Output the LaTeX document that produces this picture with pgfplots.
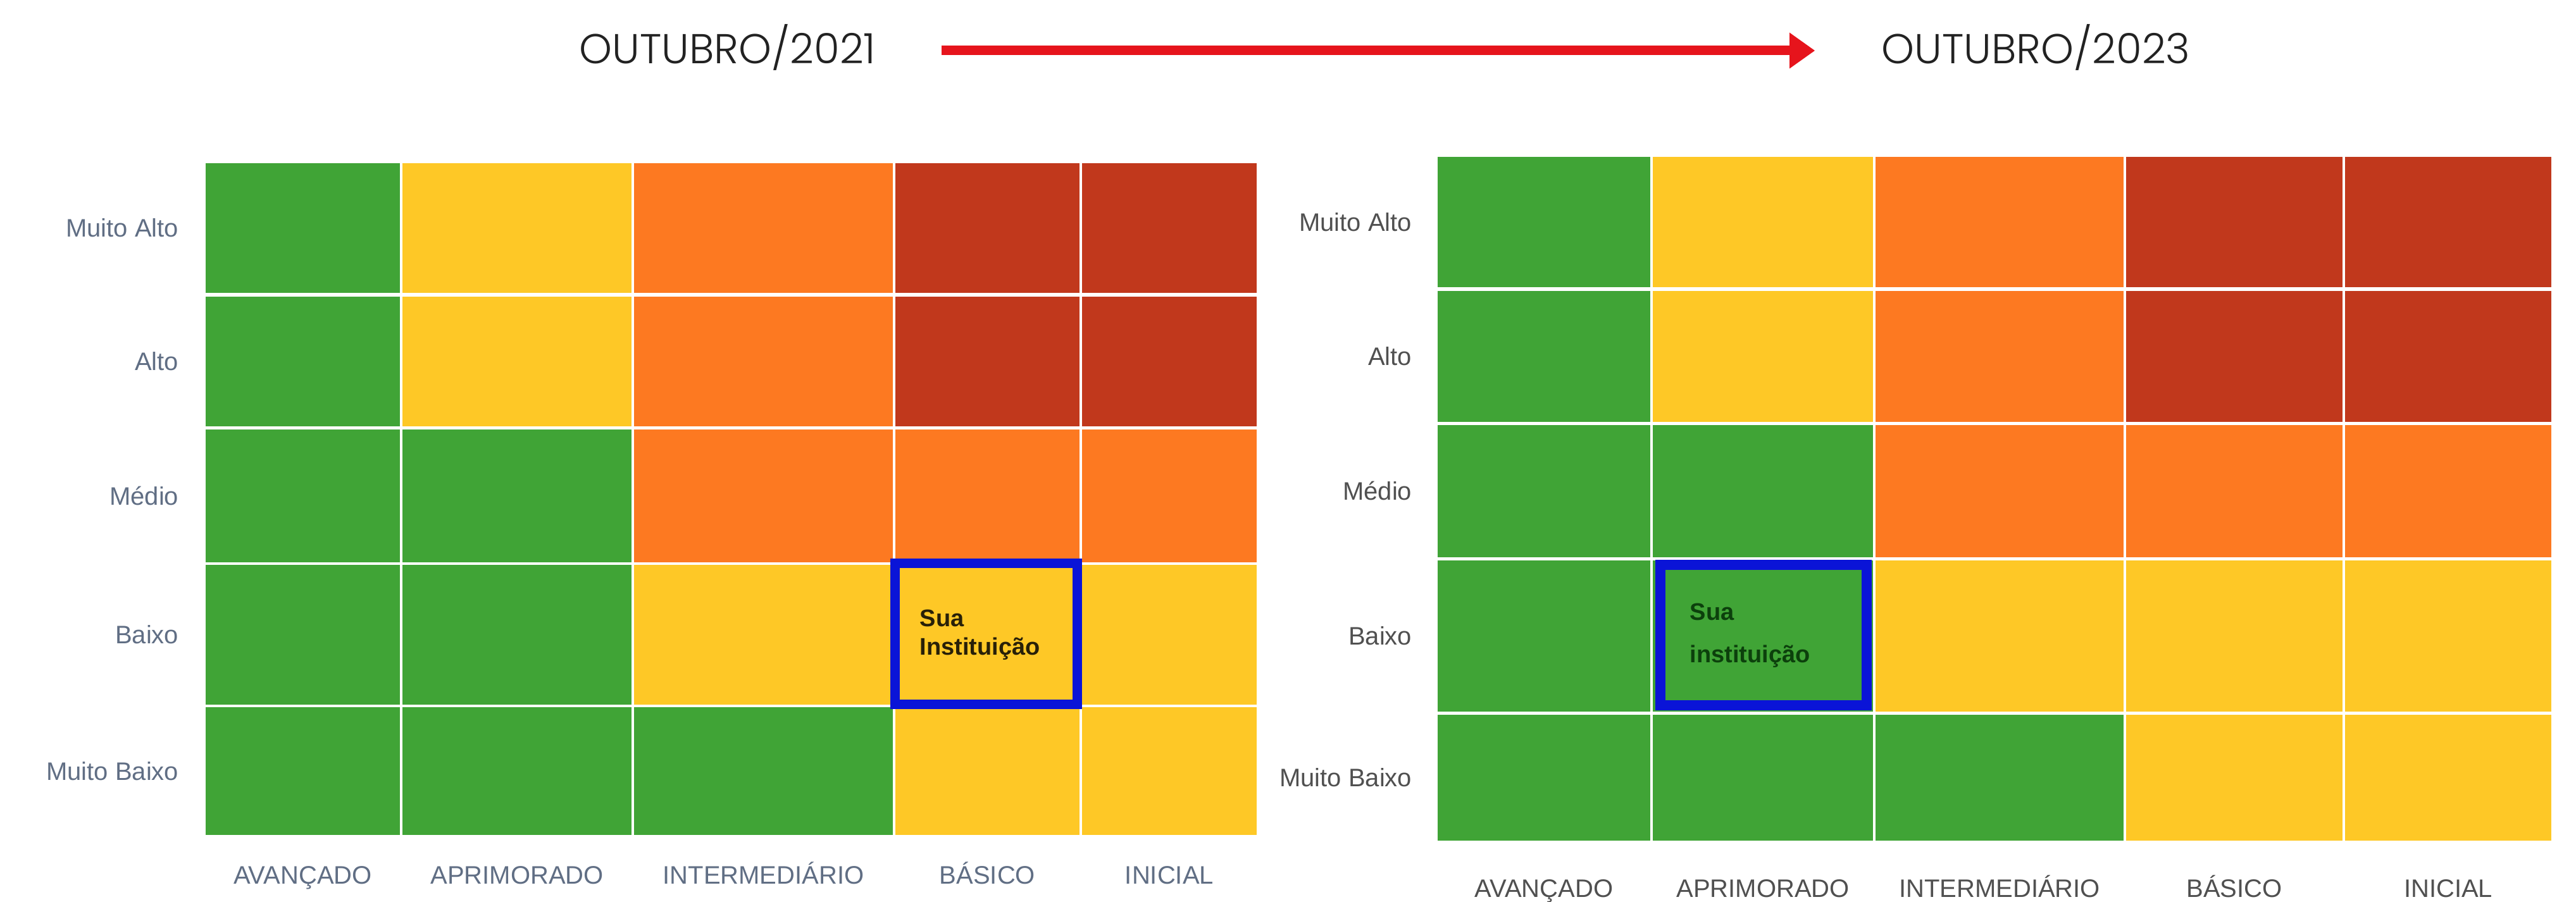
\documentclass[border=0pt]{standalone}
\usepackage{pgfplots}
\pgfplotsset{compat=1.18}
\usepackage{fontspec}
\setmainfont{Liberation Sans}
\newfontfamily\poppins{Poppins Light}
\definecolor{cG}{RGB}{64,164,54}
\definecolor{cY}{RGB}{254,200,38}
\definecolor{cO}{RGB}{253,121,33}
\definecolor{cR}{RGB}{193,56,28}
\definecolor{cB}{RGB}{10,20,215}
\definecolor{arrowred}{RGB}{230,20,28}
\definecolor{labL}{RGB}{96,110,132}
\definecolor{labR}{RGB}{80,80,80}
\definecolor{txtL}{RGB}{40,32,8}
\definecolor{txtR}{RGB}{12,64,12}
\newcommand{\cell}[5]{\addplot[draw=none, fill=#5] coordinates {(#1,#3) (#2,#3) (#2,#4) (#1,#4)} -- cycle;}
\pgfplotsset{heat/.style={
  scale only axis, y dir=reverse, clip=false,
  axis line style={draw=none}, major tick length=0pt,
  tick label style={font=\fontsize{10}{12}\selectfont},
  xticklabel style={anchor=base, inner sep=0pt},
  yticklabel style={anchor=base east, inner sep=0pt, yshift=-3.5pt},
}}
\begin{document}
\begin{tikzpicture}
% ---------- left heatmap (OUTUBRO/2021) ----------
\begin{axis}[heat, at={(288.875pt,159pt)}, anchor=center,
  width=415.25pt, height=265.5pt,
  xmin=325, xmax=1986, ymin=258, ymax=1320,
  xtick={478.5,817,1206.5,1560.5,1848},
  xticklabels={AVANÇADO,APRIMORADO,INTERMEDIÁRIO,BÁSICO,INICIAL},
  ytick={360.5,571.5,784,1003.5,1219},
  yticklabels={Muito Alto,Alto,Médio,Baixo,Muito Baixo},
  xticklabel style={yshift=-19.25pt, text=labL},
  yticklabel style={xshift=-10.5pt, text=labL}]
% row Muito Alto
\cell{325}{632}{258}{463}{cG}
\cell{636}{998}{258}{463}{cY}
\cell{1002}{1411}{258}{463}{cO}
\cell{1415}{1706}{258}{463}{cR}
\cell{1710}{1986}{258}{463}{cR}
% row Alto
\cell{325}{632}{469}{674}{cG}
\cell{636}{998}{469}{674}{cY}
\cell{1002}{1411}{469}{674}{cO}
\cell{1415}{1706}{469}{674}{cR}
\cell{1710}{1986}{469}{674}{cR}
% row Medio
\cell{325}{632}{679}{889}{cG}
\cell{636}{998}{679}{889}{cG}
\cell{1002}{1411}{679}{889}{cO}
\cell{1415}{1706}{679}{889}{cO}
\cell{1710}{1986}{679}{889}{cO}
% row Baixo
\cell{325}{632}{893}{1114}{cG}
\cell{636}{998}{893}{1114}{cG}
\cell{1002}{1411}{893}{1114}{cY}
\cell{1415}{1706}{893}{1114}{cY}
\cell{1710}{1986}{893}{1114}{cY}
% row Muito Baixo
\cell{325}{632}{1118}{1320}{cG}
\cell{636}{998}{1118}{1320}{cG}
\cell{1002}{1411}{1118}{1320}{cG}
\cell{1415}{1706}{1118}{1320}{cY}
\cell{1710}{1986}{1118}{1320}{cY}
% highlight
\addplot[draw=cB, line width=3.75pt, line join=miter] coordinates {(1414,890.5) (1702.5,890.5) (1702.5,1113.5) (1414,1113.5)} -- cycle;
\node[anchor=base west, inner sep=0pt, text=txtL, font=\bfseries\fontsize{9.5}{11}\selectfont] at (axis cs:1453,990) {Sua};
\node[anchor=base west, inner sep=0pt, text=txtL, font=\bfseries\fontsize{9.5}{11}\selectfont] at (axis cs:1453,1035) {Instituição};
\end{axis}
% ---------- right heatmap (OUTUBRO/2023) ----------
\begin{axis}[heat, at={(788pt,159.125pt)}, anchor=center,
  width=440pt, height=270.25pt,
  xmin=2272, xmax=4032, ymin=248, ymax=1329,
  xtick={2440,2786,3160,3531,3869},
  xticklabels={AVANÇADO,APRIMORADO,INTERMEDIÁRIO,BÁSICO,INICIAL},
  ytick={351,563.5,776.5,1005.5,1229.5},
  yticklabels={Muito Alto,Alto,Médio,Baixo,Muito Baixo},
  xticklabel style={yshift=-22.25pt, text=labR},
  yticklabel style={xshift=-10pt, text=labR}]
% row Muito Alto
\cell{2272}{2608}{248}{454}{cG}
\cell{2612}{2960}{248}{454}{cY}
\cell{2964}{3356}{248}{454}{cO}
\cell{3360}{3702}{248}{454}{cR}
\cell{3706}{4032}{248}{454}{cR}
% row Alto
\cell{2272}{2608}{460}{667}{cG}
\cell{2612}{2960}{460}{667}{cY}
\cell{2964}{3356}{460}{667}{cO}
\cell{3360}{3702}{460}{667}{cR}
\cell{3706}{4032}{460}{667}{cR}
% row Medio
\cell{2272}{2608}{672}{881}{cG}
\cell{2612}{2960}{672}{881}{cG}
\cell{2964}{3356}{672}{881}{cO}
\cell{3360}{3702}{672}{881}{cO}
\cell{3706}{4032}{672}{881}{cO}
% row Baixo
\cell{2272}{2608}{886}{1125}{cG}
\cell{2612}{2960}{886}{1125}{cG}
\cell{2964}{3356}{886}{1125}{cY}
\cell{3360}{3702}{886}{1125}{cY}
\cell{3706}{4032}{886}{1125}{cY}
% row Muito Baixo
\cell{2272}{2608}{1130}{1329}{cG}
\cell{2612}{2960}{1130}{1329}{cG}
\cell{2964}{3356}{1130}{1329}{cG}
\cell{3360}{3702}{1130}{1329}{cY}
\cell{3706}{4032}{1130}{1329}{cY}
% highlight
\addplot[draw=cB, line width=4pt, line join=miter] coordinates {(2623.5,892.5) (2950,892.5) (2950,1115) (2623.5,1115)} -- cycle;
\node[anchor=base west, inner sep=0pt, text=txtR, font=\bfseries\fontsize{9.5}{11}\selectfont] at (axis cs:2670,980) {Sua};
\node[anchor=base west, inner sep=0pt, text=txtR, font=\bfseries\fontsize{9.5}{11}\selectfont] at (axis cs:2670,1047) {instituição};
\end{axis}
% ---------- titles and arrow ----------
\begin{scope}[x=0.25pt, y=-0.25pt, shift={(0pt,356.25pt)}]
\node[anchor=base west, inner sep=0pt, text={rgb,255:red,34;green,34;blue,34}, font=\poppins\fontsize{16.5}{18}\selectfont] at (915,101) {OUTUBRO/2021};
\node[anchor=base west, inner sep=0pt, text={rgb,255:red,34;green,34;blue,34}, font=\poppins\fontsize{16.5}{18}\selectfont] at (2973,101) {OUTUBRO/2023};
\draw[arrowred, line width=3.75pt] (1488,80) -- (2832,80);
\fill[arrowred] (2828,51.5) -- (2868,80) -- (2828,108.5) -- cycle;
\end{scope}
\pgfresetboundingbox
\useasboundingbox (0,0) rectangle (1017.75pt,356.25pt);
\end{tikzpicture}
\end{document}
